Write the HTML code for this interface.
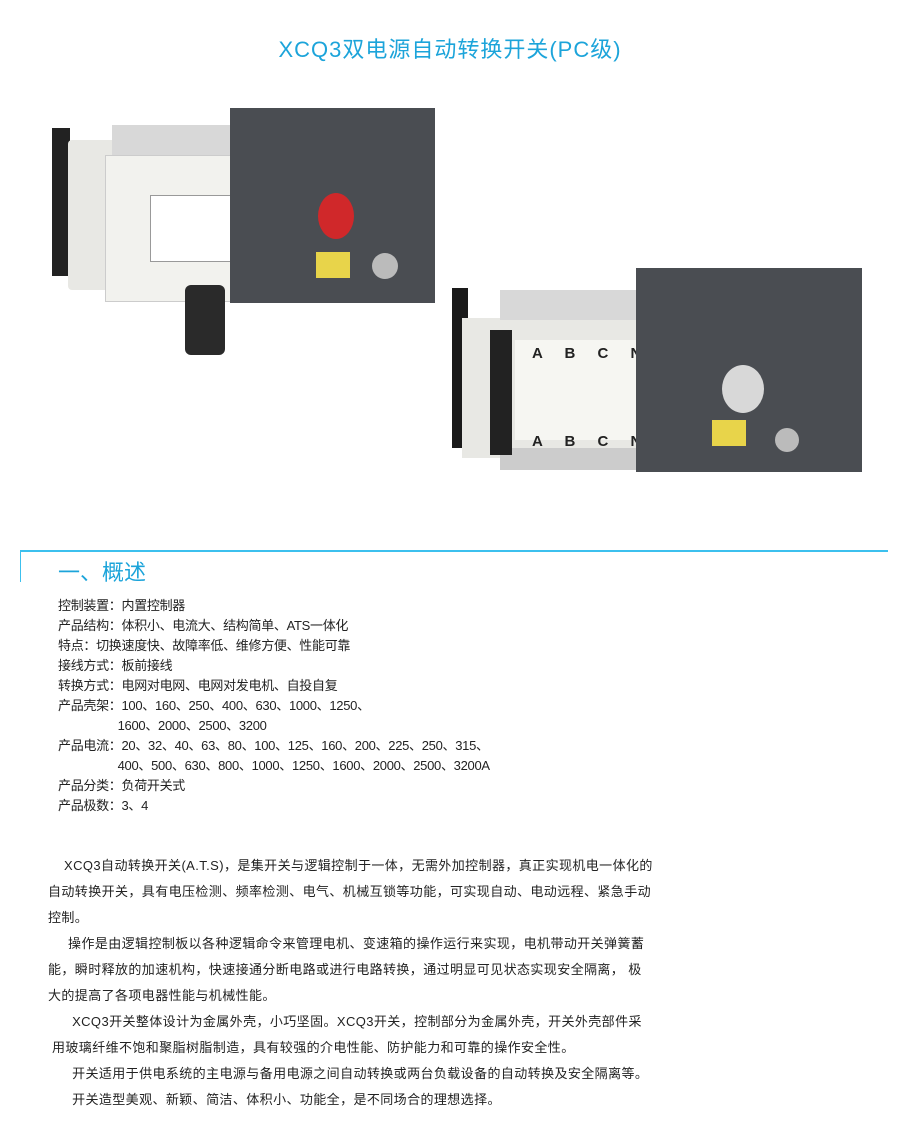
<!DOCTYPE html>
<html><head><meta charset="utf-8"><style>
body{margin:0;width:900px;height:1130px;background:#fff;position:relative;font-family:"Liberation Sans","Noto Sans CJK SC",sans-serif;color:#222;overflow:hidden}
.a{position:absolute;white-space:nowrap}
.t{font-size:13px;line-height:20px;letter-spacing:-0.3px}
.p{font-size:13px;line-height:26px;letter-spacing:0.4px}
</style></head><body>
<div class="a" style="left:0;width:900px;top:32px;text-align:center;font-size:22px;color:#1ca4da;letter-spacing:1px">XCQ3双电源自动转换开关(PC级)</div>

<!-- left device -->
<div class="a" style="left:52px;top:128px;width:18px;height:148px;background:#222"></div>
<div class="a" style="left:68px;top:140px;width:230px;height:150px;background:#e8e8e4;border-radius:4px"></div>
<div class="a" style="left:105px;top:155px;width:185px;height:145px;background:#f2f2ee;border:1px solid #ccc"></div>
<div class="a" style="left:150px;top:195px;width:85px;height:65px;background:#fff;border:1px solid #999"></div>
<div class="a" style="left:112px;top:125px;width:170px;height:30px;background:#d8d8d8"></div>
<div class="a" style="left:230px;top:108px;width:205px;height:195px;background:#4a4d52"></div>
<div class="a" style="left:318px;top:193px;width:36px;height:46px;background:#d0282a;border-radius:50%"></div>
<div class="a" style="left:316px;top:252px;width:34px;height:26px;background:#e8d44a"></div>
<div class="a" style="left:372px;top:253px;width:26px;height:26px;background:#bbb;border-radius:50%"></div>
<div class="a" style="left:185px;top:285px;width:40px;height:70px;background:#2a2a2a;border-radius:6px"></div>

<!-- right device -->
<div class="a" style="left:452px;top:288px;width:16px;height:160px;background:#1a1a1a"></div>
<div class="a" style="left:462px;top:318px;width:210px;height:140px;background:#e8e8e4"></div>
<div class="a" style="left:515px;top:340px;width:150px;height:100px;background:#f6f6f2"></div>
<div class="a" style="left:500px;top:290px;width:165px;height:30px;background:#d8d8d8"></div>
<div class="a" style="left:500px;top:448px;width:160px;height:22px;background:#ccc"></div>
<div class="a" style="left:532px;top:345px;font-size:15px;font-weight:bold;word-spacing:18px">A B C N</div>
<div class="a" style="left:532px;top:433px;font-size:15px;font-weight:bold;word-spacing:18px">A B C N</div>
<div class="a" style="left:490px;top:330px;width:22px;height:125px;background:#222"></div>
<div class="a" style="left:636px;top:268px;width:226px;height:204px;background:#4a4d52"></div>
<div class="a" style="left:722px;top:365px;width:42px;height:48px;background:#d8d8d8;border-radius:50%"></div>
<div class="a" style="left:712px;top:420px;width:34px;height:26px;background:#e8d44a"></div>
<div class="a" style="left:775px;top:428px;width:24px;height:24px;background:#bbb;border-radius:50%"></div>

<!-- section header -->
<div class="a" style="left:20px;top:550px;width:868px;height:2px;background:#3cc0ee"></div>
<div class="a" style="left:20px;top:550px;width:1px;height:32px;background:#3cc0ee"></div>
<div class="a" style="left:58px;top:555px;font-size:22px;color:#1ca4da">一、概述</div>

<div class="a t" style="left:58px;top:596px">控制装置：内置控制器<br>产品结构：体积小、电流大、结构简单、ATS一体化<br>特点：切换速度快、故障率低、维修方便、性能可靠<br>接线方式：板前接线<br>转换方式：电网对电网、电网对发电机、自投自复<br>产品壳架：100、160、250、400、630、1000、1250、<br>&nbsp;&nbsp;&nbsp;&nbsp;&nbsp;&nbsp;&nbsp;&nbsp;&nbsp;&nbsp;&nbsp;&nbsp;&nbsp;&nbsp;&nbsp;&nbsp;&nbsp;&nbsp;1600、2000、2500、3200<br>产品电流：20、32、40、63、80、100、125、160、200、225、250、315、<br>&nbsp;&nbsp;&nbsp;&nbsp;&nbsp;&nbsp;&nbsp;&nbsp;&nbsp;&nbsp;&nbsp;&nbsp;&nbsp;&nbsp;&nbsp;&nbsp;&nbsp;&nbsp;400、500、630、800、1000、1250、1600、2000、2500、3200A<br>产品分类：负荷开关式<br>产品极数：3、4</div>

<div class="a p" style="left:48px;top:853px">&nbsp;&nbsp;&nbsp;&nbsp;XCQ3自动转换开关(A.T.S)，是集开关与逻辑控制于一体，无需外加控制器，真正实现机电一体化的<br>自动转换开关，具有电压检测、频率检测、电气、机械互锁等功能，可实现自动、电动远程、紧急手动<br>控制。<br>&nbsp;&nbsp;&nbsp;&nbsp;&nbsp;操作是由逻辑控制板以各种逻辑命令来管理电机、变速箱的操作运行来实现，电机带动开关弹簧蓄<br>能，瞬时释放的加速机构，快速接通分断电路或进行电路转换，通过明显可见状态实现安全隔离， 极<br>大的提高了各项电器性能与机械性能。<br>&nbsp;&nbsp;&nbsp;&nbsp;&nbsp;&nbsp;XCQ3开关整体设计为金属外壳，小巧坚固。XCQ3开关，控制部分为金属外壳，开关外壳部件采<br>&nbsp;用玻璃纤维不饱和聚脂树脂制造，具有较强的介电性能、防护能力和可靠的操作安全性。<br>&nbsp;&nbsp;&nbsp;&nbsp;&nbsp;&nbsp;开关适用于供电系统的主电源与备用电源之间自动转换或两台负载设备的自动转换及安全隔离等。<br>&nbsp;&nbsp;&nbsp;&nbsp;&nbsp;&nbsp;开关造型美观、新颖、简洁、体积小、功能全，是不同场合的理想选择。</div>
</body></html>
